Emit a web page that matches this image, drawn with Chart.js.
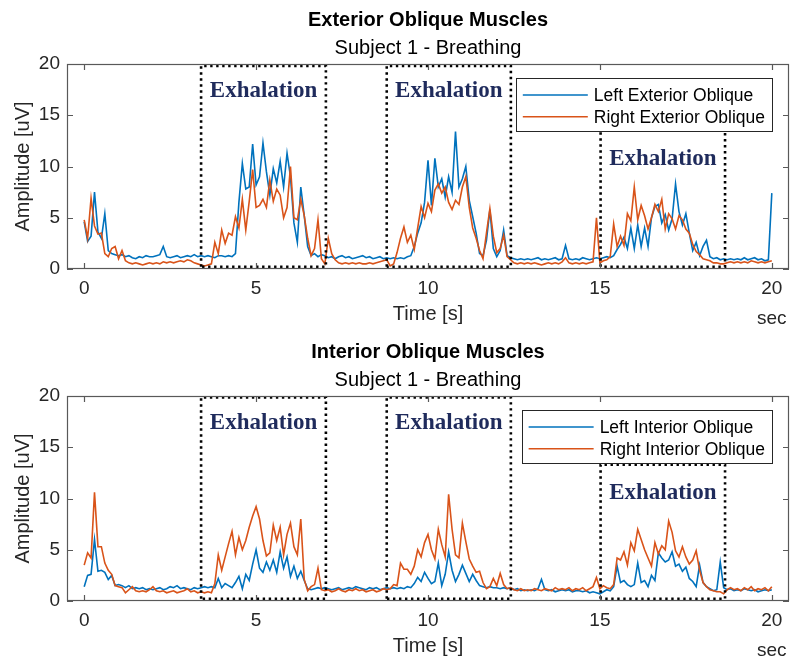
<!DOCTYPE html>
<html><head><meta charset="utf-8">
<script src="https://cdn.jsdelivr.net/npm/chart.js@4.4.1/dist/chart.umd.min.js"></script>
<style>
html,body{margin:0;padding:0;background:#fff;}
#wrap{width:791px;height:663px;position:relative;overflow:hidden;background:#fff;}
.box{position:absolute;left:0;width:791px;height:331px;}
canvas{display:block;}
</style></head><body>
<div id="wrap">
<div class="box" style="top:0"><canvas id="c1" width="791" height="331"></canvas></div>
<div class="box" style="top:332px"><canvas id="c2" width="791" height="331"></canvas></div>
</div>
<script>
// ---- time axis (seconds) ----
const TIME = [
0.0,0.1,0.2,0.3,0.4,0.5,0.6,0.7,0.8,0.9,
1.0,1.1,1.2,1.3,1.4,1.5,1.6,1.7,1.8,1.9,
2.0,2.1,2.2,2.3,2.4,2.5,2.6,2.7,2.8,2.9,
3.0,3.1,3.2,3.3,3.4,3.5,3.6,3.7,3.8,3.9,
4.0,4.1,4.2,4.3,4.4,4.5,4.6,4.7,4.8,4.9,
5.0,5.1,5.2,5.3,5.4,5.5,5.6,5.7,5.8,5.9,
6.0,6.1,6.2,6.3,6.4,6.5,6.6,6.7,6.8,6.9,
7.0,7.1,7.2,7.3,7.4,7.5,7.6,7.7,7.8,7.9,
8.0,8.1,8.2,8.3,8.4,8.5,8.6,8.7,8.8,8.9,
9.0,9.1,9.2,9.3,9.4,9.5,9.6,9.7,9.8,9.9,
10.0,10.1,10.2,10.3,10.4,10.5,10.6,10.7,10.8,10.9,
11.0,11.1,11.2,11.3,11.4,11.5,11.6,11.7,11.8,11.9,
12.0,12.1,12.2,12.3,12.4,12.5,12.6,12.7,12.8,12.9,
13.0,13.1,13.2,13.3,13.4,13.5,13.6,13.7,13.8,13.9,
14.0,14.1,14.2,14.3,14.4,14.5,14.6,14.7,14.8,14.9,
15.0,15.1,15.2,15.3,15.4,15.5,15.6,15.7,15.8,15.9,
16.0,16.1,16.2,16.3,16.4,16.5,16.6,16.7,16.8,16.9,
17.0,17.1,17.2,17.3,17.4,17.5,17.6,17.7,17.8,17.9,
18.0,18.1,18.2,18.3,18.4,18.5,18.6,18.7,18.8,18.9,
19.0,19.1,19.2,19.3,19.4,19.5,19.6,19.7,19.8,19.9,
20.0];

// ---- Exterior oblique (top) ----
const LEFT_EXTERIOR = [
4.6,2.7,3.2,7.5,3.6,3.0,5.4,1.8,1.5,1.4,
1.3,1.4,1.2,1.3,1.1,1.0,1.2,1.1,1.3,1.2,
1.2,1.3,1.4,2.2,1.2,1.1,1.2,1.3,1.1,1.2,
1.3,1.2,1.4,1.2,1.3,1.2,1.3,1.2,1.1,1.3,
1.3,1.2,1.3,1.2,1.5,6.5,10.3,7.8,8.0,12.2,
8.2,9.0,12.3,9.5,7.2,9.8,8.4,10.5,8.0,11.3,
9.0,4.5,2.6,8.0,5.2,2.2,1.3,1.5,1.2,1.4,
1.3,1.1,1.2,1.0,1.2,1.3,1.1,1.2,1.0,1.1,
1.2,1.3,1.1,1.2,1.0,1.1,1.2,1.0,1.1,1.0,
1.1,1.0,1.1,1.0,1.2,1.3,2.2,3.5,4.5,6.5,
10.6,6.2,10.8,8.0,8.8,7.0,9.0,7.5,13.4,8.0,
8.8,10.0,6.7,5.1,3.5,1.5,1.3,2.8,5.8,2.0,
1.2,1.8,3.8,1.3,1.1,1.0,0.9,1.0,0.9,1.0,
0.9,1.0,1.1,0.9,1.0,0.9,1.0,1.1,0.9,1.0,
2.3,1.0,0.9,1.0,0.9,1.1,1.0,0.9,1.0,1.1,
1.0,1.1,1.2,1.1,1.3,1.9,2.4,3.1,2.0,4.0,
2.0,4.3,2.2,4.0,2.2,5.0,6.1,6.3,4.5,5.3,
3.8,4.9,8.3,5.6,4.3,5.4,3.5,1.8,2.6,1.3,
2.2,2.8,1.2,1.0,1.1,0.9,1.0,0.9,1.0,0.9,
1.0,0.9,1.1,0.9,1.0,1.1,0.9,1.0,0.8,0.9,
7.4];
const RIGHT_EXTERIOR = [
4.8,3.0,6.9,4.2,3.4,3.5,1.5,1.2,2.0,2.2,
1.0,1.8,0.8,0.6,0.5,0.6,0.5,0.4,0.5,0.6,
0.5,0.6,0.5,0.7,0.6,0.7,0.6,0.7,0.8,0.7,
0.9,0.8,0.6,0.5,0.4,0.3,0.4,0.5,2.6,1.5,
3.8,2.5,3.5,3.3,5.1,4.0,6.8,3.8,6.6,9.7,
6.0,6.2,6.8,6.0,8.7,6.6,7.8,7.2,5.0,6.0,
10.0,5.0,4.8,6.8,5.2,3.0,1.3,2.0,4.8,1.0,
0.5,3.0,1.5,0.9,0.6,0.5,0.6,0.5,0.6,0.5,
0.6,0.5,0.5,0.6,0.5,0.6,0.7,0.8,0.9,0.3,
0.5,1.6,3.0,4.1,2.6,3.3,1.9,4.0,6.1,5.0,
6.4,5.6,7.7,8.3,7.4,8.0,6.5,5.8,6.7,6.3,
8.0,9.0,6.0,4.0,3.0,1.8,1.0,3.5,5.9,3.2,
1.6,2.0,3.3,1.2,0.9,0.6,0.5,0.6,0.5,0.6,
0.5,0.6,0.5,0.4,0.5,0.6,0.5,0.6,0.5,0.7,
1.1,0.6,0.5,0.6,0.5,0.6,0.5,0.6,0.7,5.0,
0.6,0.8,0.9,1.2,4.4,2.2,3.2,2.3,5.4,4.7,
8.0,4.8,6.2,5.2,3.9,5.0,6.3,5.6,6.8,3.9,
5.4,4.9,3.9,5.2,4.8,3.9,3.5,2.4,1.7,1.4,
1.0,0.9,0.8,0.6,0.6,0.5,0.5,0.6,0.7,0.6,
0.7,0.6,0.7,0.6,0.8,0.7,0.6,0.7,0.6,0.7,
0.8];

// ---- Interior oblique (bottom) ----
const LEFT_INTERIOR = [
1.4,2.5,2.6,6.0,2.9,3.0,2.8,2.1,2.5,1.5,
1.6,1.5,1.3,1.5,1.2,1.3,1.2,1.3,1.1,1.2,
1.1,1.2,1.3,1.1,1.2,1.4,1.3,1.5,1.2,1.3,
1.2,1.1,1.3,1.2,1.3,1.4,1.3,1.4,1.3,2.2,
1.3,1.7,1.5,1.3,1.8,2.4,1.2,2.6,2.0,3.6,
5.0,3.2,2.8,3.8,3.0,4.0,2.8,4.8,3.2,4.3,
2.4,3.4,2.2,2.9,2.0,1.2,1.1,1.2,1.3,1.2,
1.3,1.2,1.1,1.2,1.3,1.1,1.2,1.3,1.2,1.4,
1.3,1.2,1.1,1.3,1.2,1.3,1.1,1.2,1.3,1.2,
1.3,1.2,1.3,1.2,1.4,1.3,1.7,2.3,1.9,2.8,
2.2,1.7,1.9,3.7,1.5,2.6,4.8,3.0,1.9,2.6,
3.5,2.7,1.9,2.6,2.0,1.5,1.4,1.3,1.4,1.3,
1.3,1.2,1.3,1.2,1.3,1.1,1.2,1.0,1.1,1.0,
1.1,1.0,1.2,2.1,1.1,1.0,1.1,0.9,1.0,1.1,
1.0,1.1,0.9,1.0,1.0,0.9,1.0,0.8,0.9,0.8,
0.7,0.9,1.1,1.0,1.4,3.4,1.8,2.0,1.6,1.4,
1.6,3.7,1.8,2.0,1.4,2.5,2.0,4.7,4.2,3.8,
4.0,4.8,3.4,3.6,2.9,3.3,2.2,1.9,1.4,3.5,
1.8,1.4,1.2,1.0,1.1,3.8,1.3,1.1,1.2,1.0,
1.1,1.0,1.2,1.1,1.0,1.1,0.9,1.0,1.1,1.0,
1.1];
const RIGHT_INTERIOR = [
3.5,4.7,4.2,10.6,5.3,5.3,3.7,3.0,2.6,1.5,
1.4,1.3,0.8,1.1,1.4,1.0,0.9,1.0,0.9,1.1,
1.4,1.0,0.9,1.0,0.8,0.9,1.0,0.8,0.9,1.0,
1.2,0.9,1.0,0.8,0.9,0.8,0.9,0.8,1.7,4.5,
3.0,4.3,5.6,6.8,4.5,6.2,5.0,5.9,7.2,8.3,
9.2,8.0,5.9,4.4,4.7,7.4,5.9,7.2,4.5,6.5,
7.6,5.3,4.5,8.0,2.1,1.0,1.4,1.6,3.2,1.1,
1.0,1.1,0.9,1.0,1.2,1.0,0.9,1.1,1.0,1.2,
1.0,1.1,0.9,1.0,1.1,0.9,1.0,1.2,1.1,1.2,
1.6,1.5,3.7,3.1,3.1,2.6,3.4,5.0,4.3,5.7,
6.5,5.0,4.1,7.0,5.5,4.3,10.4,7.0,4.5,4.2,
7.6,5.8,4.1,3.4,2.8,2.9,1.8,1.2,1.4,2.2,
1.5,2.7,1.6,1.2,1.3,1.1,1.0,1.2,1.0,1.1,
1.0,1.2,1.1,1.0,1.2,1.1,1.0,1.3,1.1,1.2,
1.1,1.3,1.0,1.2,1.1,1.3,1.0,1.2,1.4,2.3,
1.2,1.5,1.3,1.2,1.6,4.2,4.0,4.8,3.5,5.7,
4.9,7.0,6.0,5.0,4.2,3.4,5.7,4.6,5.4,5.0,
7.8,6.7,4.9,4.3,5.3,4.3,3.6,4.0,4.9,3.0,
1.8,1.4,1.1,1.0,0.9,0.9,0.7,1.1,1.3,1.1,
1.2,1.0,1.3,1.1,1.4,1.0,1.2,1.1,1.3,1.0,
1.4];

// ---- axes ----
const X_TICKS = [0, 5, 10, 15, 20];
const Y_TICKS = [0, 5, 10, 15, 20];
const X_RANGE = [-0.5, 20.5];
const Y_RANGE = [0, 20];

// ---- exhalation windows (seconds / uV) ----
const EXHALE_START = [3.40, 8.80, 15.02];
const EXHALE_END = [7.03, 12.41, 18.64];
const EXHALE_BOTTOM = [0.22, 0.22, 0.22];
const EXHALE_TOP_EXT = [19.82, 19.82, 13.55];
const EXHALE_TOP_INT = [19.85, 19.85, 13.3];
const EXHALE_LABEL_Y_EXT = [17.4, 17.4, 10.7];
const EXHALE_LABEL_Y_INT = [17.4, 17.4, 10.55];

const BLUE = '#0072BD';
const RED = '#D95319';
const SANS = '"Liberation Sans", Arial, Helvetica, sans-serif';
const SERIF = '"Liberation Serif", "Times New Roman", serif';
const AXIS_COLOR = '#262626';

const decor = {
  id: 'decor',
  afterDatasetsDraw(chart, args, opts) {
    const {ctx, chartArea: a, scales: {x, y}} = chart;
    ctx.save();
    // exhalation labels
    ctx.font = 'bold 23px ' + SERIF;
    ctx.fillStyle = '#1f2b5c';
    ctx.textAlign = 'center';
    ctx.textBaseline = 'middle';
    EXHALE_START.forEach((s, i) => {
      const cx = x.getPixelForValue((s + EXHALE_END[i]) / 2);
      const cy = y.getPixelForValue(opts.labelY[i]);
      ctx.fillText('Exhalation', cx, cy);
    });
    // frame
    ctx.strokeStyle = '#595959';
    ctx.lineWidth = 1.2;
    ctx.strokeRect(a.left + 0.5, a.top + 0.5, a.right - a.left - 1, a.bottom - a.top - 1);
    // inward ticks
    ctx.beginPath();
    X_TICKS.forEach(v => {
      const px = Math.round(x.getPixelForValue(v)) + 0.5;
      ctx.moveTo(px, a.bottom); ctx.lineTo(px, a.bottom - 6);
      ctx.moveTo(px, a.top); ctx.lineTo(px, a.top + 6);
    });
    Y_TICKS.forEach(v => {
      const py = Math.round(y.getPixelForValue(v)) + 0.5;
      ctx.moveTo(a.left, py); ctx.lineTo(a.left + 6, py);
      ctx.moveTo(a.right, py); ctx.lineTo(a.right - 6, py);
    });
    ctx.stroke();
    // legend
    const items = opts.items;
    ctx.font = '17.5px ' + SANS;
    const tw = Math.max(...items.map(it => ctx.measureText(it.label).width));
    const lineLen = 65, gapL = 7, gapT = 6, padR = 7, h = 53;
    const bx2 = a.right - 17;
    const bx1 = bx2 - padR - tw - gapT - lineLen - gapL;
    const by1 = a.top + 14;
    ctx.fillStyle = '#fff';
    ctx.fillRect(bx1, by1, bx2 - bx1, h);
    ctx.strokeStyle = AXIS_COLOR;
    ctx.lineWidth = 1;
    ctx.strokeRect(Math.round(bx1) + 0.5, Math.round(by1) + 0.5, Math.round(bx2 - bx1), h);
    items.forEach((it, i) => {
      const cy = by1 + 17 + i * 21.7;
      ctx.strokeStyle = it.color;
      ctx.lineWidth = 1.5;
      ctx.beginPath();
      ctx.moveTo(bx1 + gapL, cy); ctx.lineTo(bx1 + gapL + lineLen, cy);
      ctx.stroke();
      ctx.fillStyle = '#000';
      ctx.textAlign = 'left';
      ctx.textBaseline = 'middle';
      ctx.fillText(it.label, bx1 + gapL + lineLen + gapT, cy + 1);
    });
    // "sec" unit under the last tick
    ctx.font = '19px ' + SANS;
    ctx.fillStyle = AXIS_COLOR;
    ctx.textAlign = 'center';
    ctx.textBaseline = 'middle';
    ctx.fillText('sec', x.getPixelForValue(X_TICKS[X_TICKS.length - 1]), a.bottom + 50);
    ctx.restore();
  }
};

function series(values) {
  return TIME.map((t, i) => ({x: t, y: values[i]}));
}
function exhaleBoxes(tops) {
  return EXHALE_START.map((s, i) => ({
    label: 'exhalation ' + (i + 1),
    data: [
      {x: s, y: EXHALE_BOTTOM[i]}, {x: s, y: tops[i]},
      {x: EXHALE_END[i], y: tops[i]}, {x: EXHALE_END[i], y: EXHALE_BOTTOM[i]},
      {x: s, y: EXHALE_BOTTOM[i]}
    ],
    borderColor: '#000',
    borderWidth: 2.6,
    borderDash: [2.4, 3.6],
    borderCapStyle: 'butt',
    pointRadius: 0,
    tension: 0,
    fill: false,
    order: 1
  }));
}

function makeChart(id, cfg) {
  return new Chart(document.getElementById(id), {
    type: 'line',
    data: {
      datasets: [
        {label: cfg.leftLabel, data: series(cfg.left), borderColor: BLUE, borderWidth: 1.6, pointRadius: 0, tension: 0, fill: false, order: 3},
        {label: cfg.rightLabel, data: series(cfg.right), borderColor: RED, borderWidth: 1.6, pointRadius: 0, tension: 0, fill: false, order: 2},
        ...exhaleBoxes(cfg.boxTop)
      ]
    },
    options: {
      responsive: false,
      animation: false,
      events: [],
      layout: {padding: {left: 0, right: 2, top: 0, bottom: 0}},
      scales: {
        x: {
          type: 'linear', min: X_RANGE[0], max: X_RANGE[1],
          afterBuildTicks: s => { s.ticks = X_TICKS.map(v => ({value: v})); },
          afterFit: s => { s.height = 62; },
          grid: {display: false, drawTicks: false},
          border: {display: false},
          ticks: {font: {family: SANS, size: 19}, color: AXIS_COLOR, padding: 8, maxRotation: 0, autoSkip: false},
          title: {display: true, text: 'Time [s]', font: {family: SANS, size: 20}, color: AXIS_COLOR, padding: {top: 0, bottom: 5}}
        },
        y: {
          type: 'linear', min: Y_RANGE[0], max: Y_RANGE[1],
          afterBuildTicks: s => { s.ticks = Y_TICKS.map(v => ({value: v})); },
          afterFit: s => { s.width = 67; },
          grid: {display: false, drawTicks: false},
          border: {display: false},
          ticks: {font: {family: SANS, size: 19}, color: AXIS_COLOR, padding: 7},
          title: {display: true, text: 'Amplitude [uV]', font: {family: SANS, size: 20}, color: AXIS_COLOR, padding: {top: 11, bottom: 0}}
        }
      },
      plugins: {
        legend: {display: false},
        tooltip: {enabled: false},
        title: {display: true, text: cfg.title, fullSize: false, color: '#000', font: {family: SANS, size: 20, weight: 'bold'}, padding: {top: 8, bottom: 2}},
        subtitle: {display: true, text: 'Subject 1 - Breathing', fullSize: false, color: '#000', font: {family: SANS, size: 20, weight: 'normal'}, padding: {top: 2, bottom: 4}},
        decor: {
          labelY: cfg.labelY,
          items: [{label: cfg.leftLabel, color: BLUE}, {label: cfg.rightLabel, color: RED}]
        }
      }
    },
    plugins: [decor]
  });
}

makeChart('c1', {
  title: 'Exterior Oblique Muscles',
  left: LEFT_EXTERIOR, right: RIGHT_EXTERIOR,
  leftLabel: 'Left Exterior Oblique', rightLabel: 'Right Exterior Oblique',
  boxTop: EXHALE_TOP_EXT, labelY: EXHALE_LABEL_Y_EXT
});
makeChart('c2', {
  title: 'Interior Oblique Muscles',
  left: LEFT_INTERIOR, right: RIGHT_INTERIOR,
  leftLabel: 'Left Interior Oblique', rightLabel: 'Right Interior Oblique',
  boxTop: EXHALE_TOP_INT, labelY: EXHALE_LABEL_Y_INT
});
</script>
</body></html>
